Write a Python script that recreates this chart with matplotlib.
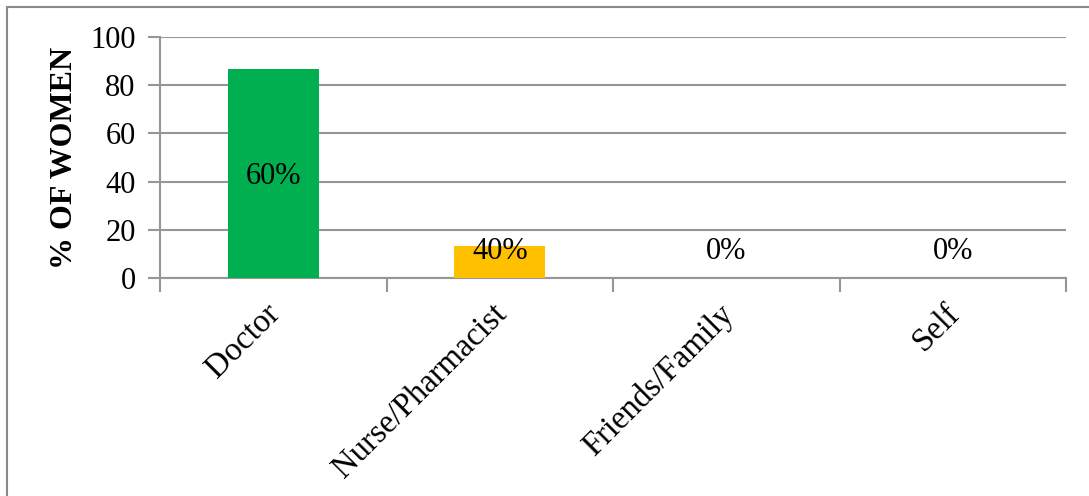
import matplotlib as mpl
mpl.use('Agg')
import matplotlib.pyplot as plt
from matplotlib.patches import Rectangle
import matplotlib.transforms as mtransforms
import numpy as np

plt.rcParams['font.family'] = ['Liberation Serif', 'DejaVu Serif']

categories = ['Doctor', 'Nurse/Pharmacist', 'Friends/Family', 'Self']
women_pct = [87, 13, 0, 0]
bar_labels = ['60%', '40%', '0%', '0%']
bar_colors = ['#00B050', '#FFC000', '#00B050', '#FFC000']
y_ticks = [0, 20, 40, 60, 80, 100]

grid_col = '#969696'

fig = plt.figure(figsize=(10.89, 4.96), dpi=100)

# outer chart frame
fig.patches.append(Rectangle((7 / 1089, -0.05), 1.2, 1 - 7 / 496 + 0.05,
                             transform=fig.transFigure, fill=False,
                             edgecolor='#8a8a8a', linewidth=1.5))

ax = fig.add_axes([160 / 1089, 1 - 277.7 / 496, 906 / 1089, 240.4 / 496])

x = np.arange(len(categories))
ax.bar(x, women_pct, width=0.40, color=bar_colors, zorder=3)

for xi, v, lab in zip(x, women_pct, bar_labels):
    ax.text(xi, max(v / 2 - 1.5, 10.8), lab, ha='center', va='center',
            fontsize=22, color='black', zorder=4)

ax.set_xlim(-0.5, len(categories) - 0.5)
ax.set_ylim(0, 100)
ax.set_yticks(y_ticks)
ax.set_yticklabels([str(t) for t in y_ticks], fontsize=22)

# category labels centred, tick marks on the boundaries
ax.set_xticks(x)
ax.set_xticklabels(categories, rotation=45, ha='right', va='top',
                   rotation_mode='anchor', fontsize=23.5)
ax.tick_params(axis='x', which='major', length=0, pad=15)
shift = mtransforms.ScaledTranslation(-6 / 72, 0, fig.dpi_scale_trans)
for lbl in ax.get_xticklabels():
    lbl.set_transform(lbl.get_transform() + shift)
ax.set_xticks(np.arange(-0.5, len(categories)), minor=True)
ax.tick_params(axis='x', which='minor', length=10, width=1.5, color=grid_col,
               direction='out')
ax.tick_params(axis='y', length=9, width=1.5, color=grid_col, pad=8.5)

ax.yaxis.grid(True, color=grid_col, linewidth=1.5, zorder=0)
ax.set_axisbelow(True)
for side in ['top', 'right']:
    ax.spines[side].set_visible(False)
for side in ['left', 'bottom']:
    ax.spines[side].set_color(grid_col)
    ax.spines[side].set_linewidth(1.5)

ax.set_ylabel('% OF WOMEN', fontsize=23, fontweight='bold', labelpad=8)

fig.savefig('out.png', dpi=100)
